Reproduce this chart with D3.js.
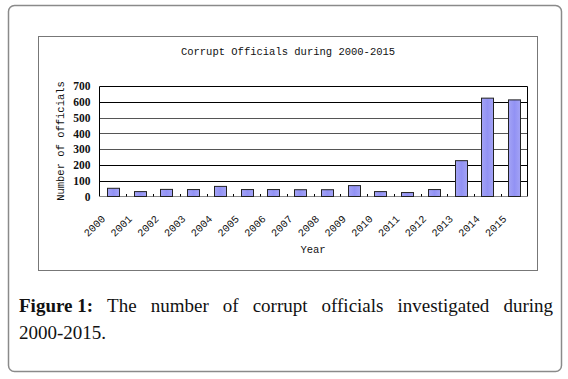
<!DOCTYPE html>
<html>
<head>
<meta charset="utf-8">
<script src="https://cdn.jsdelivr.net/npm/d3@7"></script>
<style>
html,body{margin:0;padding:0;background:#fff;}
svg{display:block;}
</style>
</head>
<body>
<svg id="chart" width="568" height="379"></svg>
<script>
const years = ["2000","2001","2002","2003","2004","2005","2006","2007","2008","2009","2010","2011","2012","2013","2014","2015"];
const officials = [52,31,45,44,64,44,44,43,43,69,31,25,44,227,623,612];
const yTicks = [0,100,200,300,400,500,600,700];
const chartTitle = "Corrupt Officials during 2000-2015";
const yTitle = "Number of officials";
const xTitle = "Year";
const captionBold = "Figure 1:";
const captionWords = ["The","number","of","corrupt","officials","investigated","during"];
const captionLine2 = "2000-2015.";

(function(){
const svg = d3.select("#chart");

svg.append("rect").attr("x",8.5).attr("y",5.5).attr("width",553).attr("height",366)
  .attr("rx",6).attr("fill","#fff").attr("stroke","#8a8a8a").attr("stroke-width",1.5);

svg.append("rect").attr("x",38.5).attr("y",36.5).attr("width",499).attr("height",234)
  .attr("fill","#fff").attr("stroke","#777").attr("stroke-width",1);

const pL = 99.5, pR = 527.5, pT = 86, pB = 196.5;
const x = d3.scaleBand().domain(years).range([pL,pR]).paddingInner(0.55).paddingOuter(0.275);
const xb = d3.scaleBand().domain(years).range([pL,pR]);
const y = d3.scaleLinear().domain([0,700]).range([pB,pT]);

const mono = "'Liberation Mono','DejaVu Sans Mono',monospace";

svg.append("text").attr("x",288).attr("y",55).attr("text-anchor","middle")
  .attr("font-family",mono).attr("font-size",10.5).attr("fill","#111").text(chartTitle);

const grid = svg.append("g");
grid.selectAll("line").data(yTicks.slice(1)).join("line")
  .attr("x1",pL).attr("x2",pR)
  .attr("y1",d=>Math.round(y(d))+0.5).attr("y2",d=>Math.round(y(d))+0.5)
  .attr("stroke",d=> (d===100||d===200||d===600||d===700)?"#000":"#555").attr("stroke-width",1);
svg.append("line").attr("x1",pL).attr("x2",pL).attr("y1",Math.round(y(700))+0.5).attr("y2",pB).attr("stroke","#000");
svg.append("line").attr("x1",pR).attr("x2",pR).attr("y1",Math.round(y(700))+0.5).attr("y2",pB).attr("stroke","#000");
svg.append("line").attr("x1",pL).attr("x2",pR).attr("y1",pB).attr("y2",pB).attr("stroke","#888");

svg.append("g").selectAll("line").data(years.slice(1)).join("line")
  .attr("x1",d=>Math.round(xb(d))+0.5).attr("x2",d=>Math.round(xb(d))+0.5)
  .attr("y1",pB-2.5).attr("y2",pB).attr("stroke","#000");

const defs = svg.append("defs");
const grad = defs.append("linearGradient").attr("id","barg").attr("x1","0").attr("x2","1").attr("y1","0").attr("y2","0");
grad.append("stop").attr("offset","0").attr("stop-color","#a3a3f5");
grad.append("stop").attr("offset","0.5").attr("stop-color","#9292f4");
grad.append("stop").attr("offset","1").attr("stop-color","#a3a3f5");

svg.append("g").selectAll("rect").data(years).join("rect")
  .attr("x",d=>Math.round(x(d))+0.5)
  .attr("y",(d,i)=>y(officials[i]))
  .attr("width",Math.round(x.bandwidth()))
  .attr("height",(d,i)=>pB-y(officials[i]))
  .attr("fill","url(#barg)").attr("stroke","#222").attr("stroke-width",1);

const yAxis = d3.axisLeft(y).tickValues(yTicks).tickSize(0).tickPadding(0);
const ya = svg.append("g").attr("transform",`translate(${pL-9},0)`).call(yAxis);
ya.select(".domain").remove();
ya.selectAll("text").attr("font-family","'Liberation Serif','DejaVu Serif',serif")
  .attr("font-weight","bold").attr("font-size",11.5).attr("fill","#111");

const xAxis = d3.axisBottom(xb).tickSize(0).tickPadding(0);
const xa = svg.append("g").attr("transform",`translate(0,${pB})`).call(xAxis);
xa.select(".domain").remove();
xa.selectAll("text")
  .attr("font-family",mono).attr("font-size",10.5).attr("fill","#111")
  .attr("text-anchor","end").attr("dy",0).attr("y",0)
  .attr("transform","translate(-7,23) rotate(-45)");

svg.append("text").attr("transform","translate(64,141) rotate(-90)").attr("text-anchor","middle")
  .attr("font-family",mono).attr("font-size",10.5).attr("fill","#111").text(yTitle);
svg.append("text").attr("x",313).attr("y",253).attr("text-anchor","middle")
  .attr("font-family",mono).attr("font-size",10.5).attr("fill","#111").text(xTitle);

const serif = "'Liberation Serif','DejaVu Serif',serif";
const capL = 19, capR = 553, capY = 312, fs = 19;
const cap = svg.append("g").attr("font-family",serif).attr("font-size",fs).attr("fill","#111");
const words = [{t:captionBold,b:true}].concat(captionWords.map(t=>({t,b:false})));
const nodes = words.map(w=>cap.append("text").attr("y",capY).attr("font-weight",w.b?"bold":"normal").text(w.t));
const widths = nodes.map(n=>n.node().getComputedTextLength());
const total = d3.sum(widths);
const gap = (capR-capL-total)/(words.length-1);
let cx = capL;
nodes.forEach((n,i)=>{ n.attr("x",cx); cx += widths[i]+gap; });
cap.append("text").attr("x",capL).attr("y",capY+27).text(captionLine2);
})();
</script>
</body>
</html>
